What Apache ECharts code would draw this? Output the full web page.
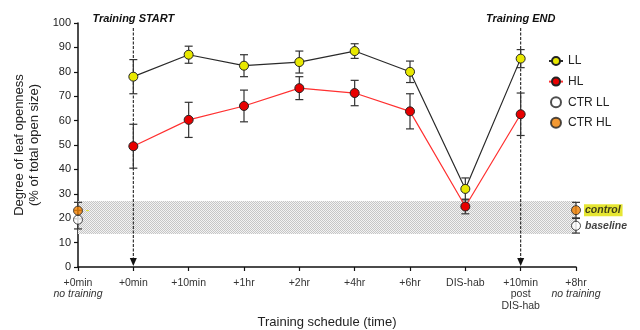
<!DOCTYPE html>
<html><head><meta charset="utf-8">
<script src="https://cdn.jsdelivr.net/npm/echarts@6/dist/echarts.min.js"></script>
<style>html,body{margin:0;padding:0;background:#fff}#c{width:640px;height:330px}</style>
</head><body><div id="c"></div>
<script>
const categories = ['+0min', '+0min', '+10min', '+1hr', '+2hr', '+4hr', '+6hr', 'DIS-hab', '+10min', '+8hr'];
const subLabels = ['no training', '', '', '', '', '', '', '', 'post\nDIS-hab', 'no training'];
const subItalic = [true, false, false, false, false, false, false, false, false, true];
const llMean = [null, 78, 87, 82.5, 84, 88.5, 80, 32, 85.4, null];
const llErr  = [null, 7, 3.5, 4.5, 4.5, 3, 4.4, 4.5, 3.7, null];
const hlMean = [null, 49.5, 60.3, 66, 73.3, 71.3, 63.8, 24.8, 62.6, null];
const hlErr  = [null, 9, 7.2, 6.5, 4.7, 5.2, 7.2, 3, 8.7, null];
const ctrLLMean = [19.4, null, null, null, null, null, null, null, null, 16.9];
const ctrLLErr  = [3.8, null, null, null, null, null, null, null, null, 3];
const ctrHLMean = [23.1, null, null, null, null, null, null, null, null, 23.3];
const ctrHLErr  = [3.4, null, null, null, null, null, null, null, null, 3.2];
const baselineBand = [13.5, 27];
const yTicks = [0, 10, 20, 30, 40, 50, 60, 70, 80, 90, 100];
const trainingMarks = [[1, 'Training START'], [8, 'Training END']];

function pts(m) { return m.map((v, i) => v == null ? null : [i, v]).filter(Boolean); }
function errs(m, e) { return m.map((v, i) => v == null ? null : [i, v - e[i], v + e[i]]).filter(Boolean); }

const pat = document.createElement('canvas');
pat.width = 4; pat.height = 4;
const pc = pat.getContext('2d');
pc.fillStyle = '#f3f3f3'; pc.fillRect(0, 0, 4, 4);
pc.fillStyle = '#c6c6c6';
pc.fillRect(0, 0, 1, 1); pc.fillRect(2, 0, 1, 1); pc.fillRect(1, 1, 1, 1); pc.fillRect(3, 1, 1, 1);
pc.fillRect(0, 2, 1, 1); pc.fillRect(2, 2, 1, 1); pc.fillRect(1, 3, 1, 1); pc.fillRect(3, 3, 1, 1);

function errRender(params, api) {
  const x = api.value(0);
  const lo = api.coord([x, api.value(1)]);
  const hi = api.coord([x, api.value(2)]);
  const w = 4;
  const st = { stroke: '#333', lineWidth: 1.2 };
  return { type: 'group', children: [
    { type: 'line', shape: { x1: lo[0], y1: lo[1], x2: hi[0], y2: hi[1] }, style: st },
    { type: 'line', shape: { x1: lo[0] - w, y1: lo[1], x2: lo[0] + w, y2: lo[1] }, style: st },
    { type: 'line', shape: { x1: hi[0] - w, y1: hi[1], x2: hi[0] + w, y2: hi[1] }, style: st }
  ]};
}

function arrowRender(params, api) {
  const x = api.value(0);
  const top = api.coord([x, 98]);
  const bot = api.coord([x, 0]);
  const lab = api.coord([x, 100]);
  return { type: 'group', children: [
    { type: 'line', shape: { x1: top[0], y1: top[1], x2: bot[0], y2: bot[1] - 8 },
      style: { stroke: '#222', lineWidth: 1.1, lineDash: [3, 1.5] } },
    { type: 'polygon', shape: { points: [[bot[0] - 3.5, bot[1] - 9], [bot[0] + 3.5, bot[1] - 9], [bot[0], bot[1] - 1]] },
      style: { fill: '#111' } },
    { type: 'text', x: lab[0], y: lab[1] + 1,
      style: { text: api.value(1), fill: '#111', font: 'italic bold 11px "Liberation Sans", Arial, sans-serif',
        align: 'center', verticalAlign: 'bottom' } }
  ]};
}

const chart = echarts.init(document.getElementById('c'), null, { renderer: 'canvas' });
const baseFont = '"Liberation Sans", Arial, sans-serif';
chart.setOption({
  animation: false,
  textStyle: { fontFamily: baseFont },
  grid: { left: 78, right: 64, top: 23, bottom: 63, containLabel: false, outerBoundsMode: 'none' },
  legend: {
    orient: 'vertical', left: 548, top: 55, padding: 0, itemWidth: 14, itemHeight: 10, itemGap: 8.6,
    textStyle: { fontSize: 12, color: '#222', fontFamily: baseFont },
    data: ['LL', 'HL', 'CTR LL', 'CTR HL']
  },
  xAxis: {
    type: 'value', min: 0, max: categories.length - 1, interval: 1,
    name: 'Training schedule (time)', nameLocation: 'middle', nameGap: 44,
    nameTextStyle: { fontSize: 13, color: '#222' },
    axisLine: { lineStyle: { color: '#111', width: 1.5 } },
    axisTick: { length: 4, lineStyle: { color: '#111', width: 1.2 } },
    splitLine: { show: false },
    axisLabel: {
      margin: 10, color: '#333', fontSize: 10.5, lineHeight: 11.5,
      formatter: v => {
        const s = subLabels[v];
        if (!s) return categories[v];
        return categories[v] + '\n' + (subItalic[v] ? '{i|' + s + '}' : s);
      },
      rich: { i: { fontStyle: 'italic', fontSize: 10.5, color: '#333', lineHeight: 11.5 } }
    }
  },
  yAxis: {
    type: 'value', min: 0, max: 100, interval: 10,
    name: 'Degree of leaf openness\n(% of total open size)', nameLocation: 'middle', nameGap: 26,
    nameTextStyle: { fontSize: 13, color: '#222', lineHeight: 15 },
    axisLine: { show: true, lineStyle: { color: '#111', width: 1.5 } },
    axisTick: { show: true, length: 4, lineStyle: { color: '#111', width: 1.2 } },
    splitLine: { show: false },
    axisLabel: { margin: 7, color: '#222', fontSize: 11, formatter: v => yTicks.includes(v) ? String(v) : '' }
  },
  series: [
    { type: 'custom', name: 'arrows', data: trainingMarks, renderItem: arrowRender, z: 1, silent: true,
      encode: { x: 0, y: -1 } },
    { type: 'custom', name: 'errLL', data: errs(llMean, llErr), renderItem: errRender, z: 2, silent: true, encode: { x: 0, y: [1, 2] } },
    { type: 'custom', name: 'errHL', data: errs(hlMean, hlErr), renderItem: errRender, z: 2, silent: true, encode: { x: 0, y: [1, 2] } },
    { type: 'custom', name: 'errCL', data: errs(ctrLLMean, ctrLLErr), renderItem: errRender, z: 2, silent: true, encode: { x: 0, y: [1, 2] } },
    { type: 'custom', name: 'errCH', data: errs(ctrHLMean, ctrHLErr), renderItem: errRender, z: 2, silent: true, encode: { x: 0, y: [1, 2] } },
    {
      type: 'line', name: 'LL', data: pts(llMean), z: 4, symbol: 'circle', symbolSize: 9,
      lineStyle: { color: '#2a2a2a', width: 1.2 },
      itemStyle: { color: '#e8e800', borderColor: '#222', borderWidth: 1 },
      markArea: {
        silent: true,
        itemStyle: { color: { image: pat, repeat: 'repeat' } },
        data: [[{ xAxis: 0, yAxis: baselineBand[0] }, { xAxis: categories.length - 1, yAxis: baselineBand[1] }]]
      }
    },
    {
      type: 'line', name: 'HL', data: pts(hlMean), z: 5, symbol: 'circle', symbolSize: 9,
      lineStyle: { color: '#ff3030', width: 1.2 },
      itemStyle: { color: '#e80000', borderColor: '#222', borderWidth: 1 }
    },
    {
      type: 'scatter', name: 'CTR LL', data: pts(ctrLLMean), z: 5, symbol: 'circle', symbolSize: 9,
      itemStyle: { color: '#ffffff', borderColor: '#222', borderWidth: 1 },
      label: { show: true, position: 'right', distance: 4,
        formatter: p => p.value[0] === categories.length - 1 ? 'baseline' : '',
        fontStyle: 'italic', fontWeight: 'bold', fontSize: 10.5, color: '#111' }
    },
    {
      type: 'scatter', name: 'CTR HL', data: pts(ctrHLMean), z: 5, symbol: 'circle', symbolSize: 9,
      itemStyle: { color: '#f08000', borderColor: '#222', borderWidth: 1 },
      label: { show: true, position: 'right', distance: 3,
        formatter: p => p.value[0] === categories.length - 1 ? 'control' : '',
        fontStyle: 'italic', fontWeight: 'bold', fontSize: 10.5, color: '#111',
        backgroundColor: '#e0e000', padding: [1, 2, 0, 1] }
    }
  ]
});
</script></body></html>
